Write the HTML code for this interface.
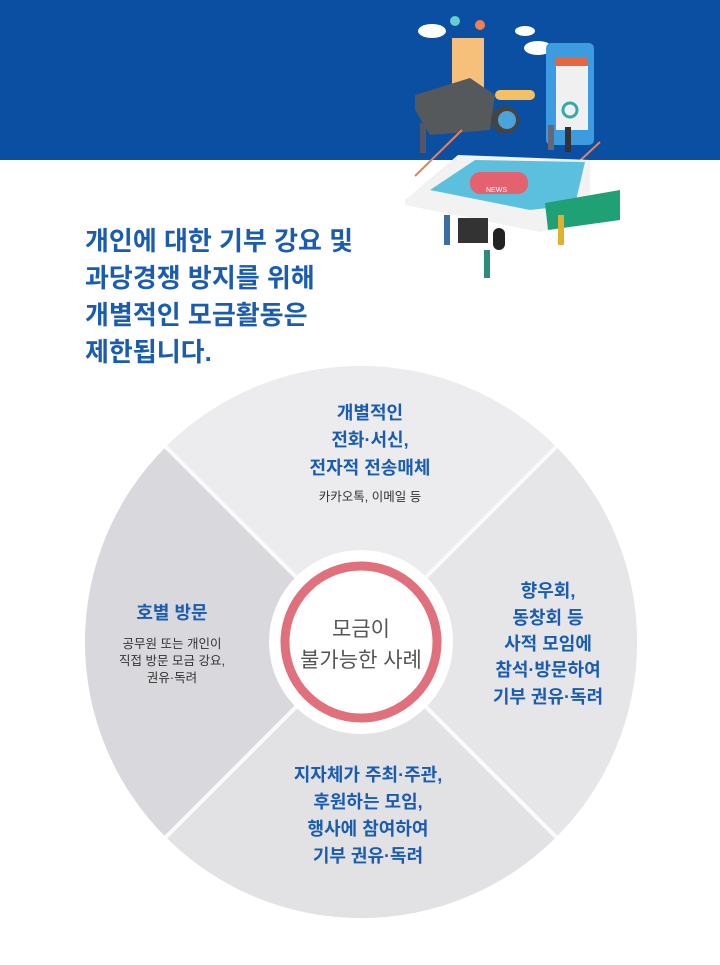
<!DOCTYPE html>
<html><head><meta charset="utf-8"><style>
html,body{margin:0;padding:0;background:#fff;}
body{width:720px;height:965px;position:relative;overflow:hidden;font-family:"Liberation Sans","Noto Sans CJK KR",sans-serif;}
svg{position:absolute;left:0;top:0;}
</style></head><body>
<svg width="720" height="965" viewBox="0 0 720 965">
<defs>
<clipPath id="cc"><circle cx="361" cy="642" r="276"/></clipPath>
</defs>
<rect x="0" y="0" width="720" height="160" fill="#0b4fa2"/>
<g>
<ellipse cx="432" cy="31" rx="14" ry="7" fill="#fff"/><ellipse cx="525" cy="31" rx="10" ry="5" fill="#fff"/><ellipse cx="538" cy="48" rx="14" ry="7" fill="#fff"/>
<circle cx="455" cy="21" r="5" fill="#6cc"/><circle cx="480" cy="25" r="5" fill="#f08050"/>
<rect x="452" y="38" width="32" height="55" fill="#f7c07a"/>
<polygon points="415,95 470,78 495,95 490,130 430,135 415,110" fill="#55595c"/>
<rect x="495" y="90" width="40" height="10" rx="5" fill="#f4c061"/>
<circle cx="505" cy="120" r="14" fill="#444"/><circle cx="507" cy="120" r="9" fill="#4aa3d9"/>
<rect x="546" y="43" width="48" height="102" rx="5" fill="#3d9be0"/>
<rect x="556" y="58" width="32" height="72" fill="#f0f0f0"/><rect x="556" y="58" width="32" height="8" fill="#e5673f"/>
<circle cx="570" cy="110" r="7" fill="none" stroke="#3aa" stroke-width="3"/>
<rect x="420" y="123" width="6" height="30" fill="#556"/><rect x="548" y="125" width="6" height="25" fill="#667"/><rect x="565" y="127" width="6" height="25" fill="#333"/>
<line x1="462" y1="130" x2="415" y2="176" stroke="#e8805a" stroke-width="2"/>
<line x1="600" y1="142" x2="570" y2="170" stroke="#e8805a" stroke-width="2"/>
<polygon points="405,200 458,155 590,160 590,222 540,232 405,205" fill="#f2f2f2"/>
<polygon points="430,190 475,160 585,162 575,205 530,210" fill="#5bc0de"/>
<rect x="470" y="172" width="58" height="22" rx="10" fill="#e46270"/>
<text x="486" y="192" font-size="7" fill="#fff">NEWS</text>
<polygon points="545,203 620,190 620,220 548,230" fill="#1fa075"/>
<rect x="458" y="218" width="30" height="25" fill="#333"/>
<rect x="493" y="228" width="12" height="22" rx="6" fill="#222"/>
<rect x="444" y="215" width="6" height="30" fill="#3a6fa3"/><rect x="484" y="250" width="6" height="28" fill="#2e8a7a"/><rect x="558" y="215" width="6" height="30" fill="#e0b030"/>
</g>
<text font-size="26" font-weight="bold" fill="#1a5cb0" x="85">
<tspan x="85" y="250">개인에 대한 기부 강요 및</tspan>
<tspan x="85" y="287">과당경쟁 방지를 위해</tspan>
<tspan x="85" y="324">개별적인 모금활동은</tspan>
<tspan x="85" y="361">제한됩니다.</tspan>
</text>
<g clip-path="url(#cc)">
<rect x="80" y="360" width="560" height="560" fill="#e4e3e6"/>
<polygon points="361,642 80,361 642,361" fill="#ecebed"/>
<polygon points="361,642 80,361 80,923" fill="#d9d8dc"/>
<polygon points="361,642 642,361 642,923" fill="#e6e5e8"/>
<polygon points="361,642 80,923 642,923" fill="#e2e1e4"/>
<line x1="80" y1="361" x2="642" y2="923" stroke="#fafafa" stroke-width="4"/>
<line x1="642" y1="361" x2="80" y2="923" stroke="#fafafa" stroke-width="4"/>
</g>
<circle cx="361" cy="642" r="92" fill="#fff"/>
<circle cx="361" cy="642" r="76" fill="#fff" stroke="#e0707c" stroke-width="9"/>
<text font-size="21" fill="#555" text-anchor="middle"><tspan x="361" y="636">모금이</tspan><tspan x="361" y="667">불가능한 사례</tspan></text>
<g font-size="18" font-weight="bold" fill="#1a5cb0" text-anchor="middle">
<text><tspan x="370" y="419">개별적인</tspan><tspan x="370" y="446">전화·서신,</tspan><tspan x="370" y="474">전자적 전송매체</tspan></text>
<text x="172" y="619">호별 방문</text>
<text><tspan x="548" y="597">향우회,</tspan><tspan x="548" y="624">동창회 등</tspan><tspan x="548" y="650">사적 모임에</tspan><tspan x="548" y="676">참석·방문하여</tspan><tspan x="548" y="703">기부 권유·독려</tspan></text>
<text><tspan x="368" y="781">지자체가 주최·주관,</tspan><tspan x="368" y="808">후원하는 모임,</tspan><tspan x="368" y="835">행사에 참여하여</tspan><tspan x="368" y="862">기부 권유·독려</tspan></text>
</g>
<g font-size="12.5" fill="#333" text-anchor="middle">
<text x="370" y="501">카카오톡, 이메일 등</text>
<text><tspan x="172" y="648">공무원 또는 개인이</tspan><tspan x="172" y="665">직접 방문 모금 강요,</tspan><tspan x="172" y="682">권유·독려</tspan></text>
</g>
</svg>
</body></html>
